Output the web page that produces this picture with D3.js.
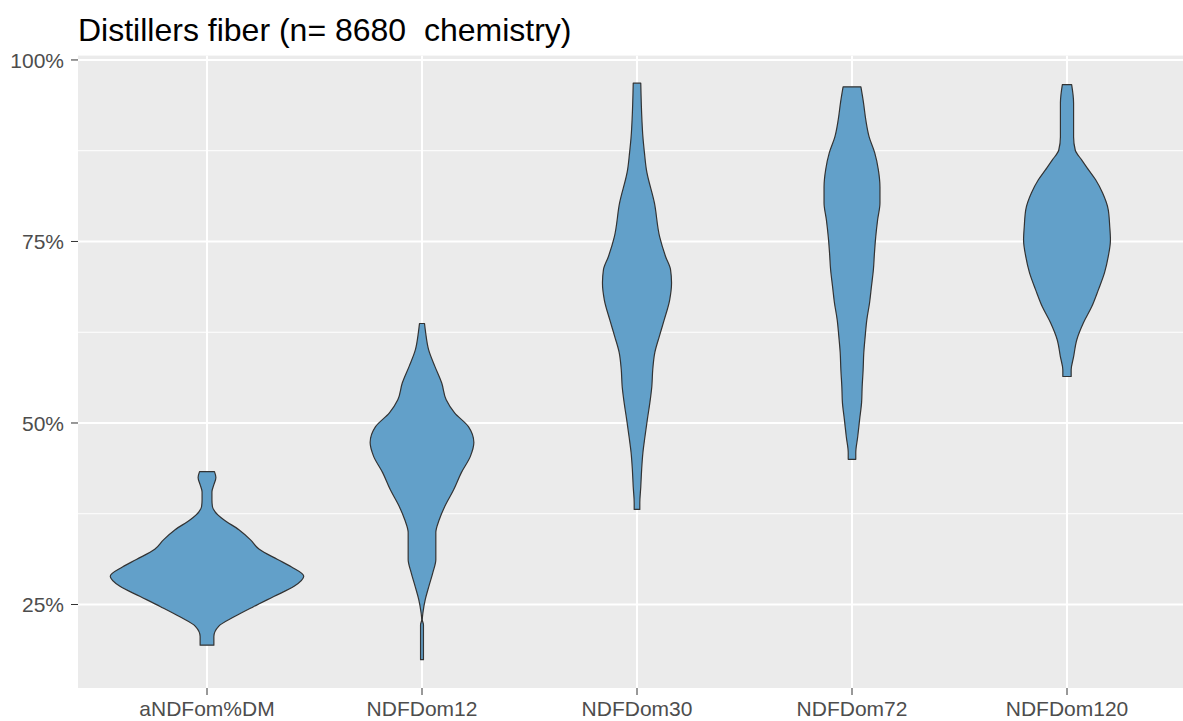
<!DOCTYPE html>
<html>
<head>
<meta charset="utf-8">
<script src="https://cdn.jsdelivr.net/npm/d3@7"></script>
<style>
  html, body { margin: 0; padding: 0; background: #fff; }
  svg { display: block; font-family: "Liberation Sans", Arial, sans-serif; }
</style>
</head>
<body>
<svg id="chart" width="1183" height="721"></svg>
<script>
// ---- data ----
const titleText = "Distillers fiber (n= 8680  chemistry)";
const categories = ["aNDFom%DM", "NDFDom12", "NDFDom30", "NDFDom72", "NDFDom120"];
const yMajorTicks = [25, 50, 75, 100];
const yMinorTicks = [37.5, 62.5, 87.5];
const yTickLabels = ["25%", "50%", "75%", "100%"];

// density profiles: [value %, relative density]
const densANDFom = [[43.3,.077],[42.5,.092],[41.5,.071],[40.5,.051],[39.4,.051],[38.5,.056],[37.8,.082],[36.7,.17],[35.3,.33],[33.9,.45],[32.6,.54],[31.2,.73],[30.2,.87],[28.9,1.0],[27.5,.90],[26.1,.69],[24.7,.48],[23.3,.28],[22.0,.12],[20.6,.071],[19.4,.071]];
const densNDFD12 = [[63.7,.026],[62.4,.038],[60.1,.068],[57.8,.133],[55.5,.204],[53.2,.25],[51.4,.337],[49.5,.48],[47.3,.536],[45.4,.5],[43.2,.408],[40.8,.327],[38.5,.235],[36.7,.179],[34.9,.143],[31.2,.143],[29.4,.112],[27.5,.071],[25.7,.034],[23.9,.01],[22.9,.003],[22.2,.015],[20.2,.015],[17.4,.015]];
const densNDFD30 = [[96.8,.039],[91.7,.051],[89.4,.061],[87.2,.077],[84.9,.097],[80.3,.18],[75.6,.235],[72.9,.296],[71.1,.347],[69.3,.357],[66.9,.337],[64.2,.281],[61.9,.23],[59.7,.184],[57.4,.163],[55.0,.153],[52.8,.133],[50.5,.107],[48.1,.082],[45.9,.061],[43.6,.048],[41.2,.039],[39.0,.029],[38.1,.029]];
const densNDFD72 = [[96.3,.092],[94.1,.119],[91.7,.143],[89.4,.177],[87.2,.235],[84.9,.272],[82.5,.289],[80.3,.289],[78.0,.265],[75.6,.245],[73.4,.232],[71.1,.221],[68.8,.201],[66.6,.182],[64.2,.153],[61.9,.136],[59.7,.122],[57.3,.115],[55.0,.105],[52.8,.099],[50.5,.079],[48.1,.059],[45.9,.039],[45.0,.039]];
const densNDFD120 = [[96.6,.048],[94.1,.068],[89.4,.068],[87.6,.085],[86.2,.153],[84.9,.221],[83.5,.296],[81.7,.367],[79.4,.426],[77.0,.442],[75.2,.449],[72.9,.426],[70.7,.388],[68.3,.323],[66.0,.255],[63.8,.17],[61.5,.102],[59.1,.068],[57.3,.043],[56.4,.043]];
const violinData = [densANDFom, densNDFD12, densNDFD30, densNDFD72, densNDFD120];

// ---- layout ----
const W = 1183, H = 721;
const panel = { left: 78, right: 1196, top: 55.6, bottom: 688 };
const svg = d3.select("#chart");

const x = d3.scalePoint().domain(categories).range([panel.left, panel.right]).padding(0.6);
const y = d3.scaleLinear().domain([13.5, 100.6]).range([panel.bottom, panel.top]);
const w = d3.scaleLinear().domain([0, 1]).range([0, 0.45 * x.step()]);

// panel background
svg.append("defs").append("clipPath").attr("id", "clip")
  .append("rect").attr("x", panel.left).attr("y", panel.top)
  .attr("width", panel.right - panel.left).attr("height", panel.bottom - panel.top);

svg.append("rect").attr("x", panel.left).attr("y", panel.top)
  .attr("width", panel.right - panel.left).attr("height", panel.bottom - panel.top)
  .attr("fill", "#EBEBEB");

const grid = svg.append("g").attr("clip-path", "url(#clip)");
grid.selectAll(".ymin").data(yMinorTicks).join("line")
  .attr("x1", panel.left).attr("x2", panel.right)
  .attr("y1", d => y(d)).attr("y2", d => y(d))
  .attr("stroke", "#fff").attr("stroke-width", 1);
grid.selectAll(".ymaj").data(yMajorTicks).join("line")
  .attr("x1", panel.left).attr("x2", panel.right)
  .attr("y1", d => y(d)).attr("y2", d => y(d))
  .attr("stroke", "#fff").attr("stroke-width", 2);
grid.selectAll(".xmaj").data(categories).join("line")
  .attr("x1", d => x(d)).attr("x2", d => x(d))
  .attr("y1", panel.top).attr("y2", panel.bottom)
  .attr("stroke", "#fff").attr("stroke-width", 2);

// violins
const violins = svg.append("g").attr("clip-path", "url(#clip)");
categories.forEach((cat, i) => {
  const cx = x(cat);
  const area = d3.area()
    .y(d => y(d[0]))
    .x0(d => cx - w(d[1]))
    .x1(d => cx + w(d[1]))
    .curve(d3.curveMonotoneY);
  const pts = violinData[i].slice().sort((a, b) => b[0] - a[0]);
  violins.append("path")
    .attr("d", area(pts))
    .attr("fill", "#62A0C9")
    .attr("stroke", "#333333")
    .attr("stroke-width", 1.2)
    .attr("stroke-linejoin", "round");
});

// y axis
const yAxis = svg.append("g");
yAxis.selectAll("line").data(yMajorTicks).join("line")
  .attr("x1", panel.left - 7).attr("x2", panel.left)
  .attr("y1", d => y(d)).attr("y2", d => y(d))
  .attr("stroke", "#333").attr("stroke-width", 1);
yAxis.selectAll("text").data(yMajorTicks).join("text")
  .attr("x", panel.left - 14).attr("y", d => y(d))
  .attr("dy", "0.36em")
  .attr("text-anchor", "end")
  .attr("font-size", 21).attr("fill", "#4D4D4D")
  .text((d, i) => yTickLabels[i]);

// x axis
const xAxis = svg.append("g");
xAxis.selectAll("line").data(categories).join("line")
  .attr("x1", d => x(d)).attr("x2", d => x(d))
  .attr("y1", panel.bottom).attr("y2", panel.bottom + 7)
  .attr("stroke", "#333").attr("stroke-width", 1);
xAxis.selectAll("text").data(categories).join("text")
  .attr("x", d => x(d)).attr("y", 716)
  .attr("text-anchor", "middle")
  .attr("font-size", 21).attr("fill", "#4D4D4D")
  .text(d => d);

// title
svg.append("text")
  .attr("x", panel.left).attr("y", 41)
  .attr("font-size", 32).attr("fill", "#000")
  .style("white-space", "pre")
  .attr("xml:space", "preserve")
  .text(titleText);
</script>
</body>
</html>
